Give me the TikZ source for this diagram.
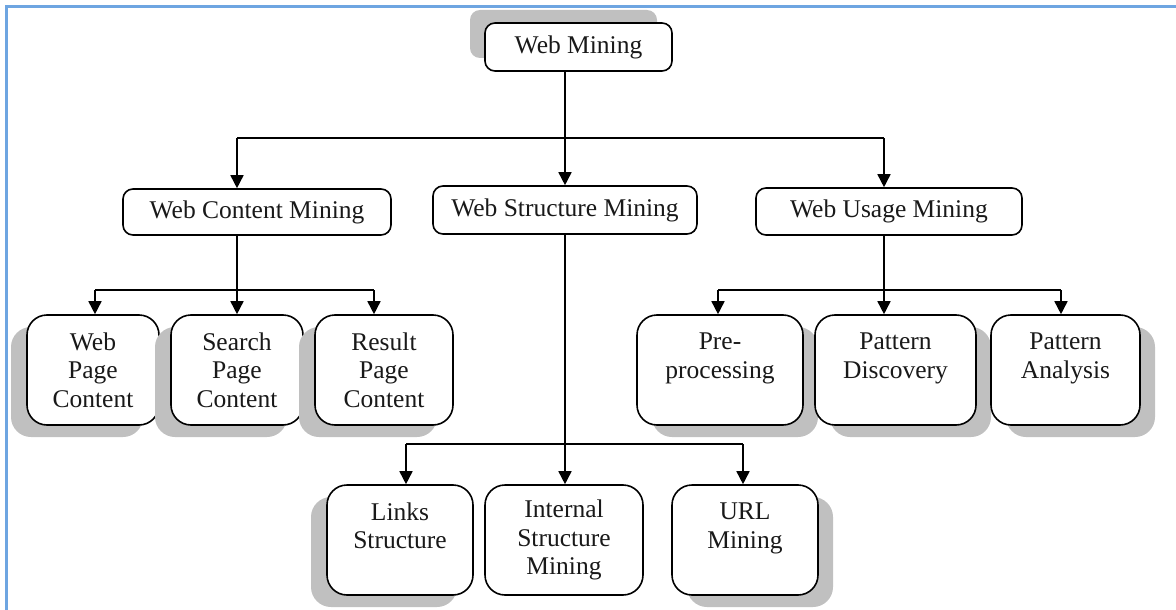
\documentclass[tikz,border=0pt]{standalone}
\usepackage{fontspec}
\setmainfont{Liberation Serif}
\usetikzlibrary{arrows.meta,shadows,backgrounds}
\definecolor{shadowc}{RGB}{192,192,192}
\definecolor{framec}{RGB}{110,165,225}
\begin{document}
\begin{tikzpicture}[x=1pt,y=-1pt,
  every node/.style={font=\fontsize{25.5}{28.5}\selectfont, text=black!90},
  topbox/.style={draw, line width=1.6pt, rounded corners=10pt, fill=white, inner sep=0pt},
  leafbox/.style={draw, line width=1.6pt, rounded corners=20pt, fill=white, inner sep=0pt,
    minimum height=110pt, align=center},
  shl/.style={drop shadow={shadow xshift=-16pt, shadow yshift=-12pt, fill=shadowc, opacity=1}},
  shr/.style={drop shadow={shadow xshift=15pt, shadow yshift=-12pt, fill=shadowc, opacity=1}},
  conn/.style={line width=1.6pt},
  arr/.style={line width=1.6pt, -{Triangle[length=13pt,width=13pt]}}
]
\useasboundingbox (0,0) rectangle (1176,610);
\fill[white] (0,0) rectangle (1176,610);
\draw[framec, line width=3pt] (1176,7) -- (6,7) -- (6,612);

% top
\node[topbox, minimum width=187pt, minimum height=48pt,
  drop shadow={shadow xshift=-15pt, shadow yshift=13pt, fill=shadowc, opacity=1}]
  (wm) at (578.5,47) {Web Mining};
\node[topbox, minimum width=268pt, minimum height=46pt] (wcm) at (257,212) {Web Content Mining};
\node[topbox, minimum width=264pt, minimum height=48pt] (wsm) at (565,210) {Web Structure Mining};
\node[topbox, minimum width=266pt, minimum height=47pt] (wum) at (889,211.5) {Web Usage Mining};

\begin{scope}[on background layer]
\fill[shadowc] ([xshift=-43pt]wcm.west) -- (wcm.west) -- ([yshift=-21pt]wcm.west) -- cycle;
\fill[shadowc] ([xshift=43pt]wum.east) -- (wum.east) -- ([yshift=-21pt]wum.east) -- cycle;
\end{scope}

% content leaves
\node[leafbox, shl, minimum width=132pt] (wpc) at (93,370) {Web\\Page\\Content};
\node[leafbox, shl, minimum width=132pt] (spc) at (237,370) {Search\\Page\\Content};
\node[leafbox, shl, minimum width=138pt] (rpc) at (384,370) {Result\\Page\\Content};

% usage leaves
\node[leafbox, shr, minimum width=166pt] (pre) at (720,370) {Pre-\\processing\\~};
\node[leafbox, shr, minimum width=161pt] (pd) at (895.5,370) {Pattern\\Discovery\\~};
\node[leafbox, shr, minimum width=149pt] (pa) at (1065.5,370) {Pattern\\Analysis\\~};

% structure leaves
\node[leafbox, shl, minimum width=146pt] (ls) at (400,540) {Links\\Structure\\~};
\node[leafbox, minimum width=158pt] (ism) at (564,540) {Internal\\Structure\\Mining};
\node[leafbox, shr, minimum width=146pt] (url) at (745,540) {URL\\Mining\\~};

% connectors level 1
\coordinate (cL) at (237,138);
\coordinate (cR) at (884,138);
\draw[arr] (wm.south -| wsm.north) -- (wsm.north);
\draw[conn] (cL) -- (cR);
\draw[arr] (cL) -- (cL |- wcm.north);
\draw[arr] (cR) -- (cR |- wum.north);

% content bus
\coordinate (a1) at (95,290);
\coordinate (a2) at (237,290);
\coordinate (a3) at (374,290);
\draw[conn] (a2 |- wcm.south) -- (a2);
\draw[conn] (a1) -- (a3);
\draw[arr] (a1) -- (a1 |- wpc.north);
\draw[arr] (a2) -- (a2 |- spc.north);
\draw[arr] (a3) -- (a3 |- rpc.north);

% usage bus
\coordinate (u1) at (718,290);
\coordinate (u2) at (884,290);
\coordinate (u3) at (1061,290);
\draw[conn] (u2 |- wum.south) -- (u2);
\draw[conn] (u1) -- (u3);
\draw[arr] (u1) -- (u1 |- pre.north);
\draw[arr] (u2) -- (u2 |- pd.north);
\draw[arr] (u3) -- (u3 |- pa.north);

% structure bus
\coordinate (s1) at (406,444);
\coordinate (s2) at (565,444);
\coordinate (s3) at (743,444);
\draw[arr] (wsm.south) -- (wsm.south |- ism.north);
\draw[conn] (s1) -- (s3);
\draw[arr] (s1) -- (s1 |- ls.north);
\draw[arr] (s3) -- (s3 |- url.north);
\end{tikzpicture}
\end{document}
